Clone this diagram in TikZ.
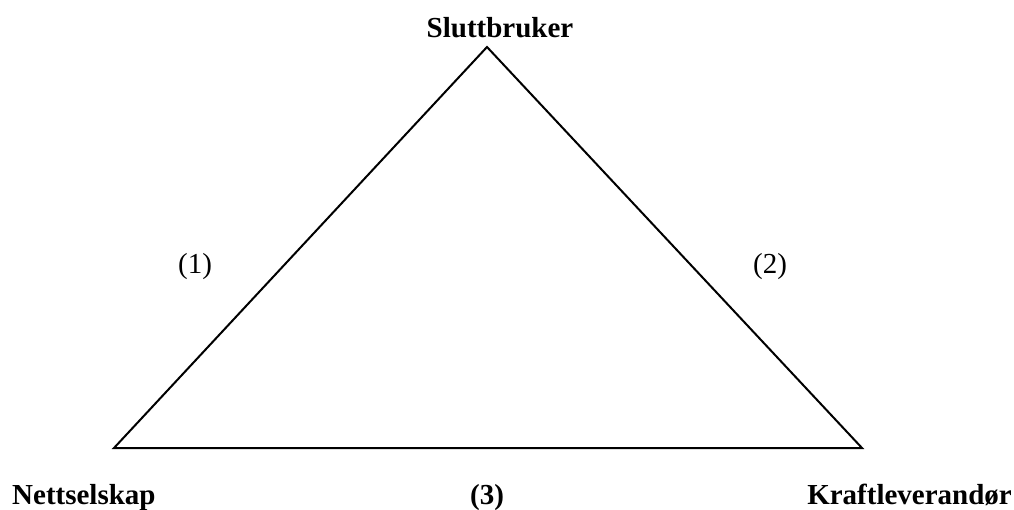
\documentclass[tikz,border=0pt]{standalone}
\usepackage{fontspec}
\setmainfont{Liberation Serif}
\begin{document}
\begin{tikzpicture}[x=1pt,y=-1pt,
  lbl/.style={inner sep=0pt,anchor=base,font=\fontsize{29}{34}\selectfont},
  blbl/.style={lbl,font=\fontsize{29}{34}\selectfont\bfseries},
  edge/.style={draw=black,line width=2pt,line join=miter}]
\useasboundingbox (0,0) rectangle (1014,510);
\coordinate (top) at (487,47);
\coordinate (bl) at (114,448);
\coordinate (br) at (862,448);
\draw[edge] (top) -- (br) -- (bl) -- cycle;
\node[blbl] (slutt) at (500,38) {Sluttbruker};
\node[blbl,anchor=base west] (nett) at (12,504) {Nettselskap};
\node[blbl,anchor=base east] (kraft) at (1012,504) {Kraftleverandør};
\node[blbl] (l3) at (487,504) {(3)};
\node[lbl] (l1) at (195,274) {(1)};
\node[lbl] (l2) at (770,274) {(2)};
\end{tikzpicture}
\end{document}
